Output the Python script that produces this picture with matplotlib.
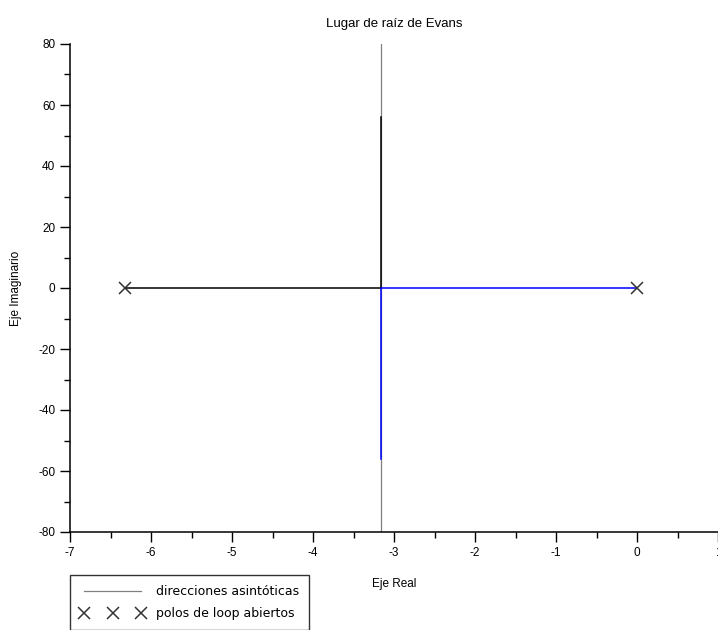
import matplotlib
matplotlib.use("Agg")
import matplotlib.pyplot as plt
from matplotlib.ticker import MultipleLocator

plt.rcParams['font.family'] = ['Liberation Sans', 'DejaVu Sans']
plt.rcParams['axes.unicode_minus'] = False

# polos de lazo abierto
polos_re = [-6.32, 0.0]
polos_im = [0.0, 0.0]
asintota_x = -3.16

# rama 1 (negra) y rama 2 (azul)
rama1_re = [-6.32, -3.16, -3.16]
rama1_im = [0.0, 0.0, 56.0]
rama2_re = [0.0, -3.16, -3.16]
rama2_im = [0.0, 0.0, -56.0]

fig = plt.figure(figsize=(7.18, 6.3), dpi=100)
ax = fig.add_axes([70 / 718, 1 - 532 / 630, 1 - 70 / 718, (532 - 44) / 630])

asin, = ax.plot([asintota_x, asintota_x], [-80, 80], color='#808080', lw=0.9,
                label='direcciones asintóticas')
ax.plot(rama1_re, rama1_im, color='black', lw=1.1)
ax.plot(rama2_re, rama2_im, color='#0000ff', lw=1.1)
pol, = ax.plot(polos_re, polos_im, linestyle='none', marker='x', color='#333333',
               markersize=9, mew=1.1, label='polos de loop abiertos')

ax.set_xlim(-7, 1)
ax.set_ylim(-80, 80)
ax.xaxis.set_major_locator(MultipleLocator(1))
ax.xaxis.set_minor_locator(MultipleLocator(0.5))
ax.yaxis.set_major_locator(MultipleLocator(20))
ax.yaxis.set_minor_locator(MultipleLocator(10))
ax.tick_params(which='major', direction='out', length=7, width=1, labelsize=8.5)
ax.tick_params(which='minor', direction='out', length=4, width=1)
ax.xaxis.set_major_formatter(plt.FuncFormatter(lambda v, p: f"{v:g}"))
for s in ['top', 'right']:
    ax.spines[s].set_visible(False)
for s in ['left', 'bottom']:
    ax.spines[s].set_linewidth(1.1)

ax.set_title('Lugar de raíz de Evans', fontsize=9.5, pad=12)
ax.set_xlabel('Eje Real', fontsize=8.5, labelpad=14)
ax.set_ylabel('Eje Imaginario', fontsize=8.5, labelpad=12)

leg = fig.legend(handles=[asin, pol], loc='upper left',
                 bbox_to_anchor=(70 / 718, 1 - 575 / 630), numpoints=3,
                 prop={'family': 'DejaVu Sans', 'size': 9},
                 frameon=True, fancybox=False, edgecolor='black',
                 handlelength=5.2, handletextpad=0.9, borderaxespad=0,
                 borderpad=0.8, labelspacing=0.75)
leg.get_frame().set_linewidth(1)

fig.savefig('out.png', dpi=100)
